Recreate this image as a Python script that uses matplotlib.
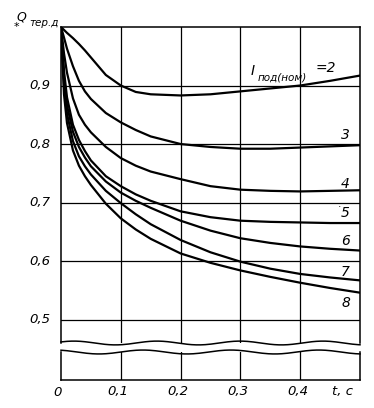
import numpy as np
import matplotlib
matplotlib.use("Agg")
import matplotlib.pyplot as plt

# ---- data ----
t = [0, 0.005, 0.01, 0.02, 0.03, 0.04, 0.05, 0.075, 0.1, 0.125, 0.15, 0.2, 0.25, 0.3, 0.35, 0.4, 0.45, 0.5]
q2 = [1.0, 0.995, 0.990, 0.981, 0.971, 0.960, 0.948, 0.918, 0.900, 0.889, 0.885, 0.883, 0.885, 0.890, 0.895, 0.900, 0.908, 0.917]
q3 = [1.0, 0.982, 0.963, 0.933, 0.908, 0.890, 0.877, 0.853, 0.837, 0.824, 0.813, 0.800, 0.795, 0.792, 0.792, 0.794, 0.796, 0.798]
q4 = [1.0, 0.955, 0.922, 0.878, 0.850, 0.833, 0.820, 0.795, 0.776, 0.763, 0.753, 0.740, 0.728, 0.722, 0.720, 0.719, 0.720, 0.721]
q5 = [1.0, 0.925, 0.880, 0.833, 0.807, 0.788, 0.772, 0.745, 0.728, 0.714, 0.703, 0.685, 0.675, 0.669, 0.667, 0.666, 0.665, 0.665]
q6 = [1.0, 0.912, 0.866, 0.821, 0.795, 0.777, 0.762, 0.736, 0.717, 0.703, 0.691, 0.669, 0.652, 0.639, 0.631, 0.625, 0.621, 0.618]
q7 = [1.0, 0.900, 0.852, 0.805, 0.779, 0.762, 0.748, 0.720, 0.699, 0.680, 0.663, 0.636, 0.615, 0.599, 0.587, 0.578, 0.572, 0.567]
q8 = [1.0, 0.885, 0.836, 0.789, 0.763, 0.745, 0.730, 0.698, 0.673, 0.654, 0.638, 0.613, 0.597, 0.584, 0.573, 0.563, 0.554, 0.546]
curves = [q2, q3, q4, q5, q6, q7, q8]
curve_labels = ["3", "4", "5", "6", "7", "8"]
label_y = [0.815, 0.732, 0.682, 0.634, 0.581, 0.528]

xticks = [0.1, 0.2, 0.3, 0.4]
xticklabels = ["0", "0,1", "0,2", "0,3", "0,4"]
yticks = [0.5, 0.6, 0.7, 0.8, 0.9]
yticklabels = ["0,5", "0,6", "0,7", "0,8", "0,9"]

W, H = 374, 408
fig = plt.figure(figsize=(W / 100, H / 100), dpi=100)
fontkw = dict(family="DejaVu Sans", style="italic")

def fx(px):
    return px / W

def fy(py):
    return 1 - py / H

# upper (main) axes
ax = fig.add_axes([fx(61), fy(343), fx(360) - fx(61), fy(27) - fy(343)])
ax.set_xlim(0, 0.5)
ax.set_ylim(0.46, 1.0)
for v in xticks:
    ax.axvline(v, color="black", lw=0.9, zorder=1)
for v in yticks:
    ax.axhline(v, color="black", lw=0.9, zorder=1)
for q in curves:
    ax.plot(t, q, color="black", lw=1.6, solid_capstyle="round", solid_joinstyle="round", zorder=3)
ax.set_xticks([])
ax.set_yticks([])
for s in ["top", "left", "right"]:
    ax.spines[s].set_linewidth(1.1)
ax.spines["bottom"].set_visible(False)

# wavy break lines (decoration)
xs = np.linspace(0, 1, 200)
wave1 = 0.006 * np.sin(xs * 2 * np.pi * 3.6 + 0.6)
ax.plot(xs, wave1, color="black", lw=1.1, transform=ax.transAxes, clip_on=False)

for v, lab in zip(yticks, yticklabels):
    ax.text(-0.035, v, lab, ha="right", va="center", fontsize=9.5, transform=ax.get_yaxis_transform(), **fontkw)

for lab, yv in zip(curve_labels, label_y):
    ax.text(0.476, yv, lab, ha="center", va="center", fontsize=10, **fontkw)
ax.text(0.466, 0.692, "·", ha="center", va="center", fontsize=7, **fontkw)

# lower small panel
ax2 = fig.add_axes([fx(61), fy(380), fx(360) - fx(61), fy(352) - fy(380)])
ax2.set_xlim(0, 0.5)
ax2.set_ylim(0, 1)
for v in xticks:
    ax2.axvline(v, color="black", lw=0.9)
ax2.set_xticks([])
ax2.set_yticks([])
for s in ["bottom", "left", "right"]:
    ax2.spines[s].set_linewidth(1.1)
ax2.spines["top"].set_visible(False)
wave2 = 1 + 0.07 * np.sin(xs * 2 * np.pi * 3.4 + 2.0)
ax2.plot(xs, wave2, color="black", lw=1.1, transform=ax2.transAxes, clip_on=False)

for i, lab in enumerate(xticklabels):
    fig.text(fx(58 + i * 60), fy(392), lab, ha="center", va="center", fontsize=9.5, **fontkw)
fig.text(fx(343), fy(392), "t, c", ha="center", va="center", fontsize=9.5, **fontkw)

# y-axis label  Q* тер.д
fig.text(fx(21), fy(17), "Q", ha="center", va="center", fontsize=9, **fontkw)
fig.text(fx(16), fy(27), "*", ha="center", va="center", fontsize=8, **fontkw)
fig.text(fx(44), fy(23), "тер.д", ha="center", va="center", fontsize=7.5, **fontkw)

# curve 2 label  I под(ном) = 2
fig.text(fx(253), fy(71), "I", ha="center", va="center", fontsize=10, **fontkw)
fig.text(fx(282), fy(77), "под(ном)", ha="center", va="center", fontsize=7.5, **fontkw)
fig.text(fx(326), fy(68), "=2", ha="center", va="center", fontsize=10, **fontkw)

fig.savefig("out.png", dpi=100, facecolor="white")
